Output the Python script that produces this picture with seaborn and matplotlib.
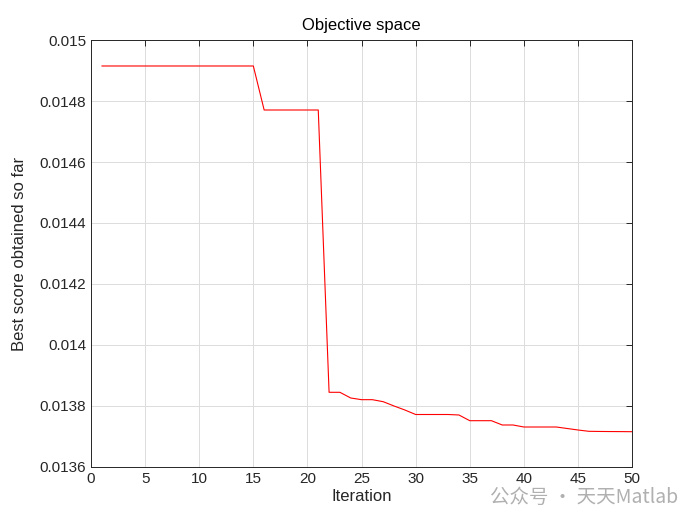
import matplotlib
matplotlib.use("Agg")
import matplotlib.pyplot as plt
import pandas as pd
import seaborn as sns

# Convergence curve (one value per iteration)
iterations = list(range(1, 51))
best_score = (
    [0.0149148] * 15
    + [0.0147705] * 6
    + [0.0138449, 0.0138449, 0.0138262, 0.0138207, 0.0138207,
       0.0138141, 0.0138000, 0.0137869, 0.0137721, 0.0137721,
       0.0137721, 0.0137721, 0.0137705, 0.0137518, 0.0137518,
       0.0137518, 0.0137377, 0.0137377, 0.0137311, 0.0137311,
       0.0137311, 0.0137311, 0.0137262, 0.0137213, 0.0137170,
       0.0137165, 0.0137162, 0.0137160, 0.0137157]
)
x_ticks = list(range(0, 51, 5))
y_ticks = [0.0136, 0.0138, 0.014, 0.0142, 0.0144, 0.0146, 0.0148, 0.015]
y_labels = ["0.0136", "0.0138", "0.014", "0.0142", "0.0144", "0.0146", "0.0148", "0.015"]

df = pd.DataFrame({"Iteration": iterations, "score": best_score})

sns.set_style("white")
plt.rcParams["font.family"] = ["Liberation Sans", "Noto Sans CJK SC", "DejaVu Sans"]

fig = plt.figure(figsize=(7, 5.25), dpi=100)
ax = fig.add_axes([0.13, 0.1105, 0.773, 0.8133])

sns.lineplot(data=df, x="Iteration", y="score", color="red", linewidth=0.8, ax=ax)

ax.set_xlim(0, 50)
ax.set_ylim(0.0136, 0.015)
ax.set_xticks(x_ticks)
ax.set_yticks(y_ticks)
ax.set_yticklabels(y_labels)
ax.grid(True, color="#dcdcdc", linewidth=0.7)
ax.set_axisbelow(True)
ax.tick_params(direction="in", top=True, right=True, length=4, width=0.7,
               labelsize=11, colors="#262626")
for s in ax.spines.values():
    s.set_visible(True)
    s.set_color("#262626")
    s.set_linewidth(0.7)

ax.set_title("Objective space", fontsize=12, color="#000000", pad=7)
ax.set_xlabel("Iteration", fontsize=12, color="#262626", labelpad=2)
ax.set_ylabel("Best score obtained so far", fontsize=12, color="#262626", labelpad=9)

# watermark
fig.text(0.969, 0.053, "公众号 · 天天Matlab", ha="right", va="center",
         fontsize=14, color="#b0b0b0",
         family=["Noto Sans CJK SC", "DejaVu Sans"])

fig.savefig("out.png", dpi=100)
